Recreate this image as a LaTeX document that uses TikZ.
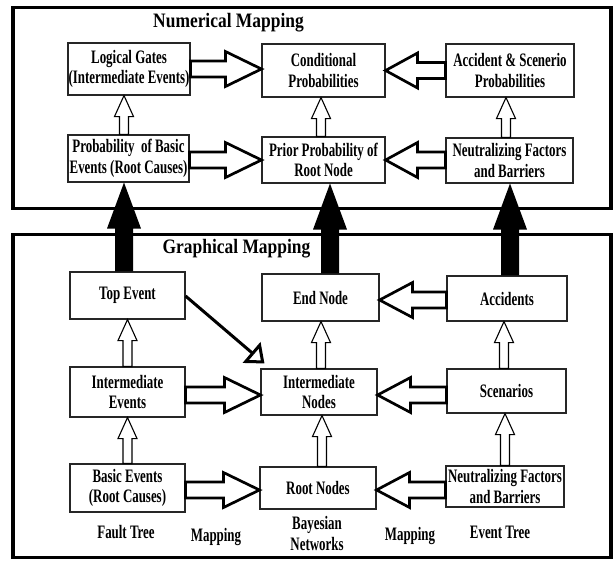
\documentclass[tikz,border=0pt]{standalone}
\usepackage{fontspec}
\setmainfont{Liberation Serif}
\newfontfamily\boxfont{Liberation Serif}[FakeStretch=0.68]
\newfontfamily\ttlfont{Liberation Serif}[FakeStretch=0.85]
\usetikzlibrary{calc,arrows.meta}

% block arrow: #1 style, #2 from, #3 to, #4 shaft half width, #5 head half width, #6 head length
\newcommand\blkarrow[6]{%
  \coordinate (ta) at #2;
  \coordinate (tb) at #3;
  \coordinate (hb) at ($(tb)!#6!(ta)$);
  \draw[#1] ($(ta)!#4!90:(tb)$) -- ($(hb)!#4!90:(tb)$) -- ($(hb)!#5!90:(tb)$) -- (tb)
     -- ($(hb)!#5!-90:(tb)$) -- ($(hb)!#4!-90:(tb)$) -- ($(ta)!#4!-90:(tb)$) -- cycle;
}

\tikzset{
  bx/.style={draw=black!85, line width=1.1pt, inner sep=0pt, align=center,
    font=\boxfont\bfseries\fontsize{19}{20.5}\selectfont},
  frame/.style={draw=black, line width=3.4pt, inner sep=0pt},
  ttl/.style={font=\ttlfont\bfseries\fontsize{20.5}{22}\selectfont, inner sep=0pt},
  lbl/.style={font=\boxfont\bfseries\fontsize{19}{20.5}\selectfont, inner sep=0pt, align=center},
  hollowthick/.style={draw=black, fill=white, line width=2.7pt, line join=miter},
  hollowthin/.style={draw=black, fill=white, line width=1.1pt, line join=miter},
  solidarrow/.style={fill=black, draw=none},
  diag/.style={draw=black, line width=3pt, -{Triangle[open, length=17pt, width=27pt, line width=3pt]}}
}

\begin{document}
\begin{tikzpicture}[x=1pt, y=-1pt]
\useasboundingbox (0,0) rectangle (613,560);
\fill[white] (0,0) rectangle (613,560);

% outer frames
\node[frame, minimum width=598pt, minimum height=201pt] (numbox) at (312,108) {};
\node[frame, minimum width=598pt, minimum height=323pt] (grabox) at (312,396) {};
\node[ttl, anchor=base] (numttl) at (228.5,27) {Numerical Mapping};
\node[ttl, anchor=base] (grattl) at (236.5,253) {Graphical Mapping};

% numerical mapping nodes
\node[bx, minimum width=122pt, minimum height=52pt] (lg) at (129,69) {Logical Gates\\(Intermediate Events)};
\node[bx, minimum width=123pt, minimum height=53pt] (cp) at (323.5,70.5) {Conditional\\Probabilities};
\node[bx, minimum width=128pt, minimum height=53pt] (asp) at (510,70.5) {Accident \& Scenerio\\Probabilities};
\node[bx, minimum width=121pt, minimum height=47pt] (pb) at (128.5,158.5) {Probability\ \ of Basic\\Events (Root Causes)};
\node[bx, minimum width=123pt, minimum height=46pt] (pp) at (323.5,160) {Prior Probability of\\Root Node};
\node[bx, minimum width=127pt, minimum height=45pt] (nfa) at (509.5,160.5) {Neutralizing Factors\\and Barriers};

% graphical mapping nodes
\node[bx, minimum width=115pt, minimum height=47pt] (te) at (127.5,295.5) {Top Event};
\node[bx, minimum width=117pt, minimum height=47pt] (en) at (320.5,297.5) {End Node};
\node[bx, minimum width=120pt, minimum height=45pt] (ac) at (507,298.5) {Accidents};
\node[bx, minimum width=115pt, minimum height=50pt] (ie) at (127.5,392) {Intermediate\\Events};
\node[bx, minimum width=116pt, minimum height=46pt] (inode) at (319,392) {Intermediate\\Nodes};
\node[bx, minimum width=119pt, minimum height=44pt] (sc) at (506.5,391) {Scenarios};
\node[bx, minimum width=115pt, minimum height=48pt] (be) at (127.5,488) {Basic Events\\(Root Causes)};
\node[bx, minimum width=116pt, minimum height=42pt] (rn) at (318,488) {Root Nodes};
\node[bx, minimum width=118pt, minimum height=41pt] (nfb) at (505,486.5) {Neutralizing Factors\\and Barriers};

% bottom labels
\node[lbl, anchor=base] (ft) at (126,538) {Fault Tree};
\node[lbl, anchor=base] (mpa) at (216,541) {Mapping};
\node[lbl] (bn) at (317,533.5) {Bayesian\\Networks};
\node[lbl, anchor=base] (mpb) at (410,540) {Mapping};
\node[lbl, anchor=base] (et) at (500,538) {Event Tree};

% numerical horizontal hollow arrows
\blkarrow{hollowthick}{(lg.east)}{(cp.west |- lg.east)}{8pt}{17.5pt}{36pt}
\blkarrow{hollowthick}{(asp.west)}{(cp.east |- asp.west)}{8pt}{17.5pt}{32pt}
\blkarrow{hollowthick}{(pb.east |- pp.west)}{(pp.west)}{8pt}{17.5pt}{36pt}
\blkarrow{hollowthick}{(nfa.west |- pp.east)}{(pp.east)}{8pt}{17.5pt}{32pt}

% numerical vertical hollow arrows
\blkarrow{hollowthin}{([xshift=-4.5pt]pb.north)}{([xshift=-4.5pt]pb.north |- lg.south)}{4.5pt}{9.5pt}{21pt}
\blkarrow{hollowthin}{([xshift=-2.5pt]pp.north)}{([xshift=-2.5pt]pp.north |- cp.south)}{4.5pt}{9.5pt}{21pt}
\blkarrow{hollowthin}{([xshift=-3.5pt]nfa.north)}{([xshift=-3.5pt]nfa.north |- asp.south)}{4.5pt}{9.5pt}{21pt}

% graphical horizontal hollow arrows
\blkarrow{hollowthick}{([yshift=-1.5pt]ac.west)}{([yshift=-1.5pt]en.east |- ac.west)}{8pt}{17.5pt}{33pt}
\blkarrow{hollowthick}{([yshift=-3pt]ie.east)}{([yshift=-3pt]inode.west |- ie.east)}{8pt}{17.5pt}{36pt}
\blkarrow{hollowthick}{([yshift=-3pt]sc.west |- inode.east)}{([yshift=-3pt]inode.east)}{8pt}{17.5pt}{33pt}
\blkarrow{hollowthick}{([yshift=-2pt]be.east)}{([yshift=-2pt]rn.west |- be.east)}{8pt}{17.5pt}{36pt}
\blkarrow{hollowthick}{([yshift=-2pt]nfb.west |- rn.east)}{([yshift=-2pt]rn.east)}{8pt}{17.5pt}{33pt}

% graphical vertical hollow arrows
\blkarrow{hollowthin}{(ie.north)}{(ie.north |- te.south)}{4.5pt}{9.5pt}{21pt}
\blkarrow{hollowthin}{(be.north)}{(be.north |- ie.south)}{4.5pt}{9.5pt}{21pt}
\blkarrow{hollowthin}{([xshift=2pt]inode.north)}{([xshift=2pt]inode.north |- en.south)}{4.5pt}{9.5pt}{21pt}
\blkarrow{hollowthin}{([xshift=4pt]rn.north)}{([xshift=4pt]rn.north |- inode.south)}{4.5pt}{9.5pt}{21pt}
\blkarrow{hollowthin}{([xshift=-2.5pt]sc.north)}{([xshift=-2.5pt]sc.north |- ac.south)}{4.5pt}{9.5pt}{21pt}
\blkarrow{hollowthin}{(nfb.north)}{(nfb.north |- sc.south)}{4.5pt}{9.5pt}{21pt}

% diagonal arrow
\coordinate (dtip) at ([shift={(4,-5)}]inode.north west);
\draw[diag] ([yshift=-0.5pt]te.east) -- (dtip);

% black arrows from graphical to numerical mapping
\blkarrow{solidarrow}{([xshift=-3.5pt]te.north)}{([xshift=-3.5pt]te.north |- pb.south)}{9pt}{17pt}{46pt}
\blkarrow{solidarrow}{([xshift=9.5pt]en.north)}{([xshift=9.5pt]en.north |- pp.south)}{9pt}{17pt}{46pt}
\blkarrow{solidarrow}{([xshift=3pt]ac.north)}{([xshift=3pt]ac.north |- nfa.south)}{9pt}{17pt}{46pt}
\end{tikzpicture}
\end{document}
